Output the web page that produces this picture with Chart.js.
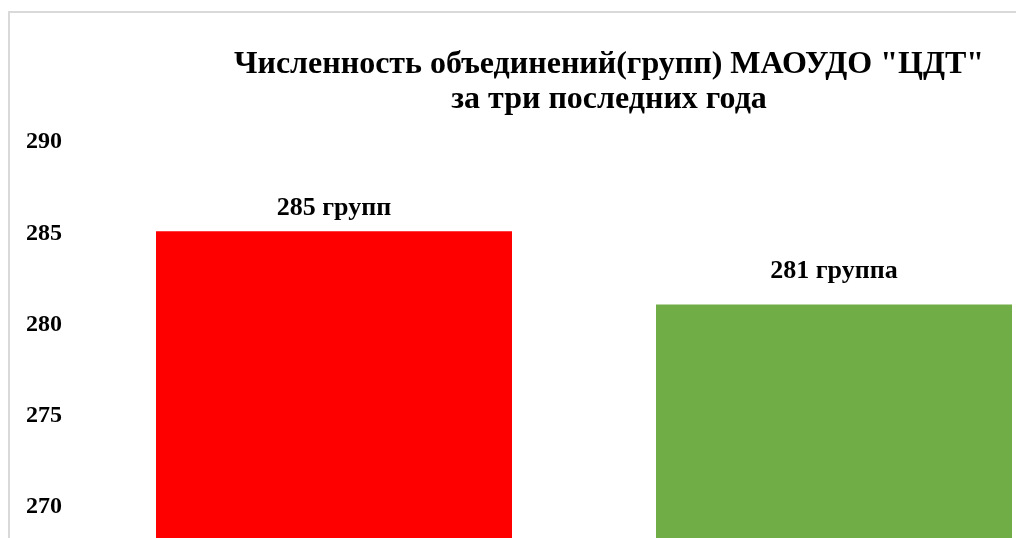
<!DOCTYPE html>
<html lang="ru">
<head>
<meta charset="utf-8">
<script src="https://cdn.jsdelivr.net/npm/chart.js@4.4.0/dist/chart.umd.min.js"></script>
<style>
    html, body { margin: 0; padding: 0; background: #fff; }
    #wrap { position: relative; width: 1016px; height: 538px; overflow: hidden; background: #fff; }
    #frame { position: absolute; left: 8px; top: 11px; width: 1200px; height: 600px;
             border-top: 2px solid #d9d9d9; border-left: 2px solid #d9d9d9; }
    #myChart { position: absolute; left: 0; top: 0; }
    #title { position: absolute; left: 9px; top: 45px; width: 1200px; text-align: center;
             font-family: "Liberation Serif", "Times New Roman", serif; font-weight: bold;
             font-size: 32px; line-height: 35px; color: #000; }
</style>
</head>
<body>
<div id="wrap">
    <div id="frame"></div>
    <canvas id="myChart" width="1100" height="633"></canvas>
    <div id="title">Численность объединений(групп) МАОУДО "ЦДТ"<br>за три последних года</div>
</div>
<script>
const years = ['2021-2022', '2022-2023'];
const groupCounts = [285, 281];
const valueLabels = ['285 групп', '281 группа'];
const yTicks = [265, 270, 275, 280, 285, 290];

const barColors = ['#ff0000', '#70ad47'];
const labelOffsets = [16, 26];
const serif = '"Liberation Serif", "Times New Roman", serif';

document.addEventListener("DOMContentLoaded", function () {
    const ctx = document.getElementById('myChart').getContext('2d');

    // подписи над столбцами
    const barLabels = {
        id: 'barLabels',
        afterDatasetsDraw(chart) {
            const c = chart.ctx;
            const meta = chart.getDatasetMeta(0);
            c.save();
            c.font = 'bold 26px ' + serif;
            c.fillStyle = '#000';
            c.textAlign = 'center';
            c.textBaseline = 'alphabetic';
            meta.data.forEach((bar, i) => {
                c.fillText(valueLabels[i], bar.x, bar.y - labelOffsets[i]);
            });
            c.restore();
        }
    };

    new Chart(ctx, {
        type: 'bar',
        data: {
            labels: years,
            datasets: [{
                data: groupCounts,
                backgroundColor: barColors,
                borderWidth: 0,
                categoryPercentage: 1,
                barPercentage: 0.712
            }]
        },
        options: {
            responsive: false,
            animation: false,
            layout: { padding: { top: 140, left: 24, right: 16, bottom: 15 } },
            plugins: {
                legend: { display: false },
                title: { display: false },
                tooltip: { enabled: false }
            },
            scales: {
                x: { display: false },
                y: {
                    min: yTicks[0],
                    max: yTicks[yTicks.length - 1],
                    afterFit: function (scale) { scale.width = 60; },
                    afterBuildTicks: function (scale) {
                        scale.ticks = yTicks.map(v => ({ value: v }));
                    },
                    grid: { display: false, drawTicks: false },
                    border: { display: false },
                    ticks: {
                        padding: 22,
                        labelOffset: 2,
                        color: '#000',
                        font: { family: serif, size: 24, weight: 'bold' }
                    }
                }
            }
        },
        plugins: [barLabels]
    });
});
</script>
</body>
</html>
